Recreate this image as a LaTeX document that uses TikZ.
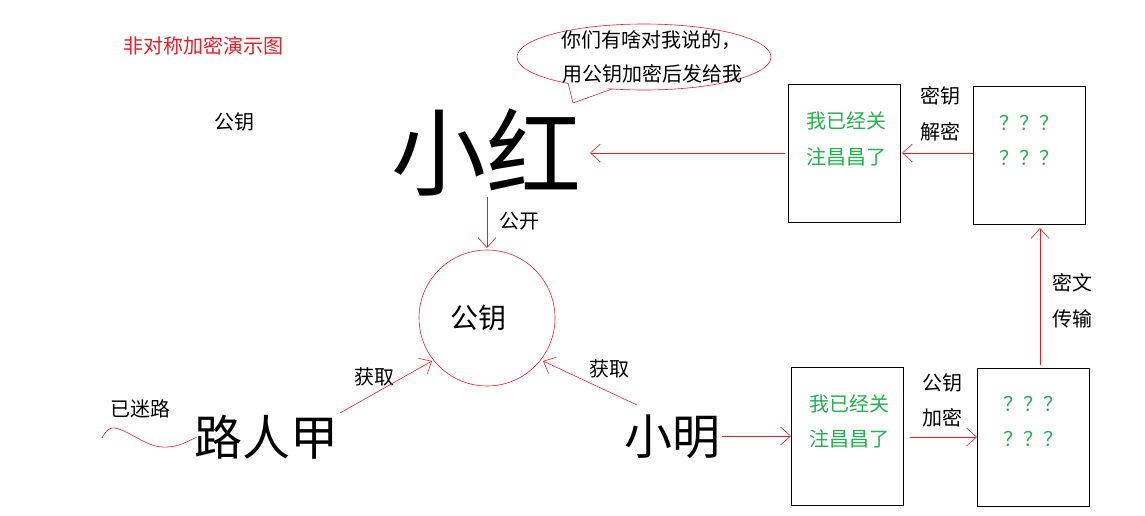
\documentclass[tikz,border=0pt]{standalone}
\usepackage{fontspec}
\setmainfont{Noto Sans CJK SC}
\usetikzlibrary{arrows.meta,shapes.geometric}
\definecolor{pred}{RGB}{237,28,36}
\definecolor{pgreen}{RGB}{34,177,76}
\tikzset{
  arr/.style={draw=pred, line width=0.6pt, -{Straight Barb[length=10pt,width=18pt,line width=0.6pt]}},
  msgbox/.style={draw=black, line width=1pt, minimum width=112pt, minimum height=138pt, inner sep=0pt},
  lab/.style={font=\fontsize{20}{20}\selectfont, inner sep=0pt},
  grn/.style={lab, text=pgreen},
}
\begin{document}
\begin{tikzpicture}[x=1pt,y=-1pt]
\useasboundingbox (0,0) rectangle (1145,515);
% title
\node[lab, text=pred] (title) at (203,46) {非对称加密演示图};
\node[lab] (pk) at (234,122) {公钥};
% bubble
\node[draw=pred, line width=0.6pt, ellipse, minimum width=254pt, minimum height=66pt, inner sep=0pt] (bubble) at (644,57) {};
\coordinate (t1) at (568,83);
\coordinate (t2) at (573,103);
\coordinate (t3) at (612,89);
\fill[white] (t1) -- (t2) -- (t3) -- cycle;
\draw[pred, line width=0.6pt] (t1) -- (t2) -- (t3);
\node[lab] (b1) at (651,40) {你们有啥对我说的，};
\node[lab] (b2) at (652,74) {用公钥加密后发给我};
% xiaohong
\node[inner sep=0pt, font=\fontsize{95}{95}\selectfont] (xh) at (486,152) {小红};
% boxes top
\node[msgbox] (tb1) at (844,153.5) {};
\node[grn] at (846,121) {我已经关};
\node[grn] at (846,157) {注昌昌了};
\node[msgbox] (tb2) at (1029,155.5) {};
\node[grn] at (1029,123) {？？？};
\node[grn] at (1029,158) {？？？};
% boxes bottom
\node[msgbox] (bb1) at (847,436.5) {};
\node[grn] at (849,404) {我已经关};
\node[grn] at (849,439) {注昌昌了};
\node[msgbox] (bb2) at (1033,437) {};
\node[grn] at (1033,404) {？？？};
\node[grn] at (1033,439) {？？？};
% circle
\node[draw=pred, line width=0.6pt, circle, minimum size=136pt, inner sep=0pt] (circ) at (487,318) {};
\node[inner sep=0pt, font=\fontsize{28}{28}\selectfont] (ck) at (478,318) {公钥};
% people
\node[inner sep=0pt, font=\fontsize{48}{48}\selectfont] (lrj) at (266,437) {路人甲};
\node[inner sep=0pt, font=\fontsize{48}{48}\selectfont] (xm) at (672,437) {小明};
\node[lab] (ylm) at (140,409) {已迷路};
% labels
\node[lab] (gk) at (519,221) {公开};
\node[lab] (hq1) at (374,377) {获取};
\node[lab] (hq2) at (609,369) {获取};
\node[lab] at (940,96) {密钥};
\node[lab] at (940,132) {解密};
\node[lab] at (942,383) {公钥};
\node[lab] at (942,418) {加密};
\node[lab] at (1072,283) {密文};
\node[lab] at (1072,319) {传输};
% coordinates
\coordinate (a1s) at (487,197);
\coordinate (a1e) at (487,248);
\coordinate (a2s) at (785,153);
\coordinate (a2e) at (590,153);
\coordinate (a3s) at (973,153);
\coordinate (a3e) at (902,153);
\coordinate (a4s) at (1040,365);
\coordinate (a4e) at (1040,228);
\coordinate (a5s) at (910,437);
\coordinate (a5e) at (977,437);
\coordinate (a6s) at (722,436);
\coordinate (a6e) at (791,436);
\coordinate (a7s) at (340,413);
\coordinate (a7e) at (432,361);
\coordinate (a8s) at (637,405);
\coordinate (a8e) at (543,361);
\draw[arr] (a1s) -- (a1e);
\draw[arr] (a2s) -- (a2e);
\draw[arr] (a3s) -- (a3e);
\draw[arr] (a4s) -- (a4e);
\draw[arr] (a5s) -- (a5e);
\draw[arr] (a6s) -- (a6e);
\draw[arr] (a7s) -- (a7e);
\draw[arr] (a8s) -- (a8e);
% wave
\coordinate (w0) at (102,438);
\coordinate (w1) at (197,437);
\draw[pred, line width=0.6pt] (w0) .. controls (106,431) and (109,427) .. (115,428)
  .. controls (130,431) and (145,446) .. (162,447) .. controls (178,448) and (188,441) .. (w1);
\end{tikzpicture}
\end{document}
